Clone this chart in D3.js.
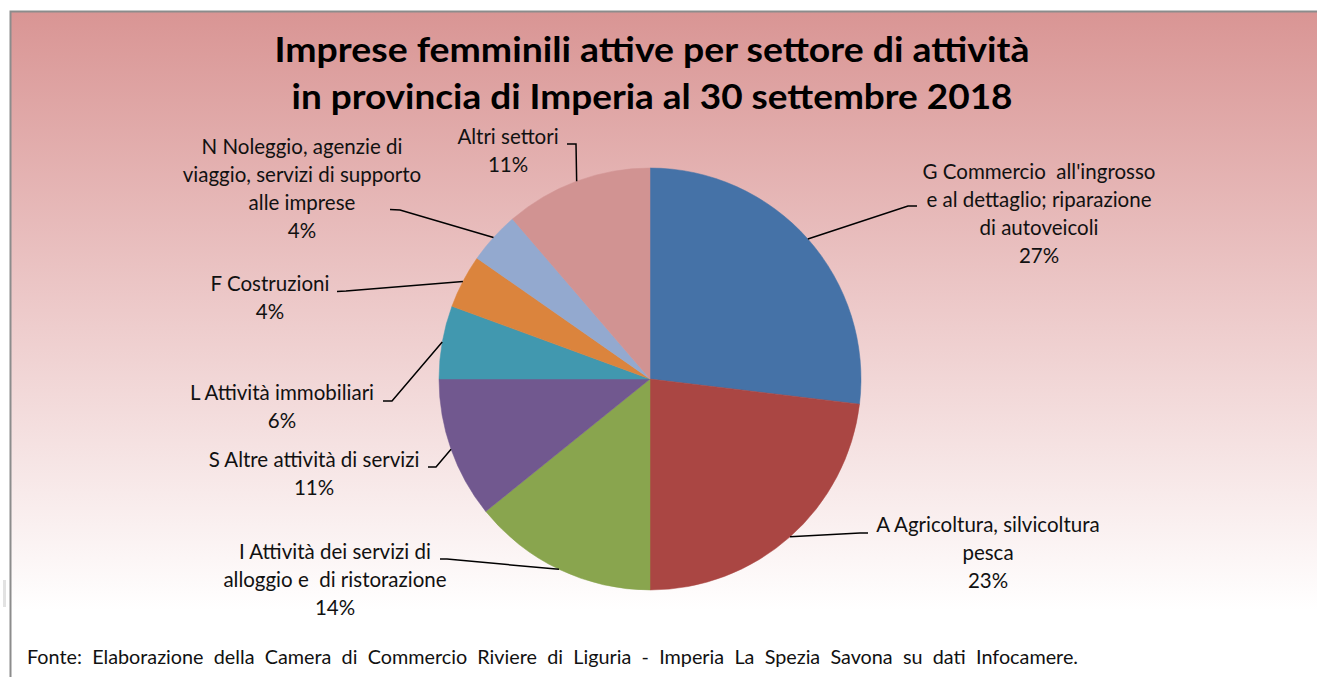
<!DOCTYPE html>
<html>
<head>
<meta charset="utf-8">
<script src="https://cdn.jsdelivr.net/npm/d3@7"></script>
<style>
  body { margin: 0; background: #fff; }
  svg { display: block; }
  text { font-family: Lato, "Open Sans", sans-serif; fill: #111; }
</style>
</head>
<body>
<svg id="mysvg" width="1317" height="677"></svg>
<script>
// data
var sectors = ["G", "A", "I", "S", "L", "F", "N", "Altri"];
var sectorLabels = [
  ["G Commercio  all'ingrosso", "e al dettaglio; riparazione", "di autoveicoli"],
  ["A Agricoltura, silvicoltura", "pesca"],
  ["I Attività dei servizi di", "alloggio e  di ristorazione"],
  ["S Altre attività di servizi"],
  ["L Attività immobiliari"],
  ["F Costruzioni"],
  ["N Noleggio, agenzie di", "viaggio, servizi di supporto", "alle imprese"],
  ["Altri settori"]
];
var shares = [26.9, 23.1, 14.2, 10.8, 5.6, 4.1, 4.0, 11.3];
var sliceColors = ["#4572A7", "#AA4643", "#89A54E", "#71588F", "#4198AF", "#DB843D", "#93A9CF", "#D19392"];
var titleLines = ["Imprese femminili attive per settore di attività", "in provincia di Imperia al 30 settembre 2018"];
var footer = "Fonte: Elaborazione della Camera di Commercio Riviere di Liguria - Imperia La Spezia Savona su dati Infocamere.";

// where excel put each label: centre x, first baseline, elbow and end of leader line
var labelLayout = [
  { x: 1039, y: 179, elbow: [908, 206], end: [917, 206] },
  { x: 988, y: 532, elbow: [860, 533], end: [868, 533] },
  { x: 335, y: 559, elbow: [447, 559], end: [440, 559] },
  { x: 314, y: 467, elbow: [436, 467], end: [428, 467] },
  { x: 282, y: 400, elbow: [392, 401], end: [383, 401] },
  { x: 270, y: 291, elbow: [346, 291], end: [337, 291.5] },
  { x: 302, y: 154, elbow: [400, 210], end: [390, 209.5] },
  { x: 508, y: 144, elbow: [576, 144], end: [567, 144] }
];

var svg = d3.select("#mysvg");
var cx = 650, cy = 379, radius = 211, lineGap = 28;

// background gradient
var defs = svg.append("defs");
var grad = defs.append("linearGradient")
  .attr("id", "bg")
  .attr("gradientUnits", "userSpaceOnUse")
  .attr("x1", 0).attr("y1", 11).attr("x2", 0).attr("y2", 610);
grad.append("stop").attr("offset", 0).attr("stop-color", "#D99594");
grad.append("stop").attr("offset", 0.5).attr("stop-color", "#EDCACA");
grad.append("stop").attr("offset", 1).attr("stop-color", "#FFFFFF");

// chart frame, runs off the right and bottom of the picture
svg.append("rect")
  .attr("x", 10.5).attr("y", 11.5)
  .attr("width", 1330).attr("height", 700)
  .attr("fill", "url(#bg)")
  .attr("stroke", "#8c8c8c")
  .attr("stroke-width", 2);

// little grey mark at the left margin
svg.append("rect").attr("x", 3).attr("y", 580).attr("width", 3).attr("height", 27).attr("fill", "#e2e2e2");

// title
svg.selectAll(".title")
  .data(titleLines)
  .enter().append("text")
  .attr("class", "title")
  .attr("x", 652)
  .attr("y", function (d, i) { return 62 + i * 47; })
  .attr("text-anchor", "middle")
  .attr("textLength", function (d, i) { return i == 0 ? 755 : 721; })
  .attr("lengthAdjust", "spacingAndGlyphs")
  .style("font-size", "34px")
  .style("font-weight", "bold")
  .style("fill", "#000")
  .text(function (d) { return d; });

// pie
var pie = d3.pie().sort(null).value(function (d) { return d; });
var arcs = pie(shares);
var arc = d3.arc().innerRadius(0).outerRadius(radius);
var edgeArc = d3.arc().innerRadius(radius).outerRadius(radius);

var g = svg.append("g").attr("transform", "translate(" + cx + "," + cy + ")");
g.selectAll("path.slice")
  .data(arcs)
  .enter().append("path")
  .attr("class", "slice")
  .attr("d", arc)
  .attr("fill", function (d, i) { return sliceColors[i]; })
  .attr("stroke", function (d, i) { return sliceColors[i]; })
  .attr("stroke-width", 0.5);

// leader lines from the middle of each slice edge
svg.selectAll("path.leader")
  .data(arcs)
  .enter().append("path")
  .attr("class", "leader")
  .attr("d", function (d, i) {
    var p = edgeArc.centroid(d);
    var lay = labelLayout[i];
    return d3.line()([[cx + p[0], cy + p[1]], lay.elbow, lay.end]);
  })
  .attr("fill", "none")
  .attr("stroke", "#000")
  .attr("stroke-width", 1.5);

// labels with the rounded share under the name
var labels = svg.selectAll("text.label")
  .data(arcs)
  .enter().append("text")
  .attr("class", "label")
  .attr("text-anchor", "middle")
  .style("font-size", "20.5px");

labels.each(function (d, i) {
  var lines = sectorLabels[i].concat([Math.round(shares[i]) + "%"]);
  var lay = labelLayout[i];
  d3.select(this).selectAll("tspan")
    .data(lines)
    .enter().append("tspan")
    .attr("x", lay.x)
    .attr("y", function (t, j) { return lay.y + j * lineGap; })
    .style("white-space", "pre")
    .text(function (t) { return t; });
});

// source note, word gaps widened so it ends where the original does
var note = svg.append("text")
  .attr("x", 27)
  .attr("y", 664)
  .style("font-size", "19.8px")
  .text(footer);
var natural = note.node().getComputedTextLength();
var gaps = footer.split(" ").length - 1;
note.style("word-spacing", Math.max(0, (1051 - natural) / gaps) + "px");
</script>
</body>
</html>
